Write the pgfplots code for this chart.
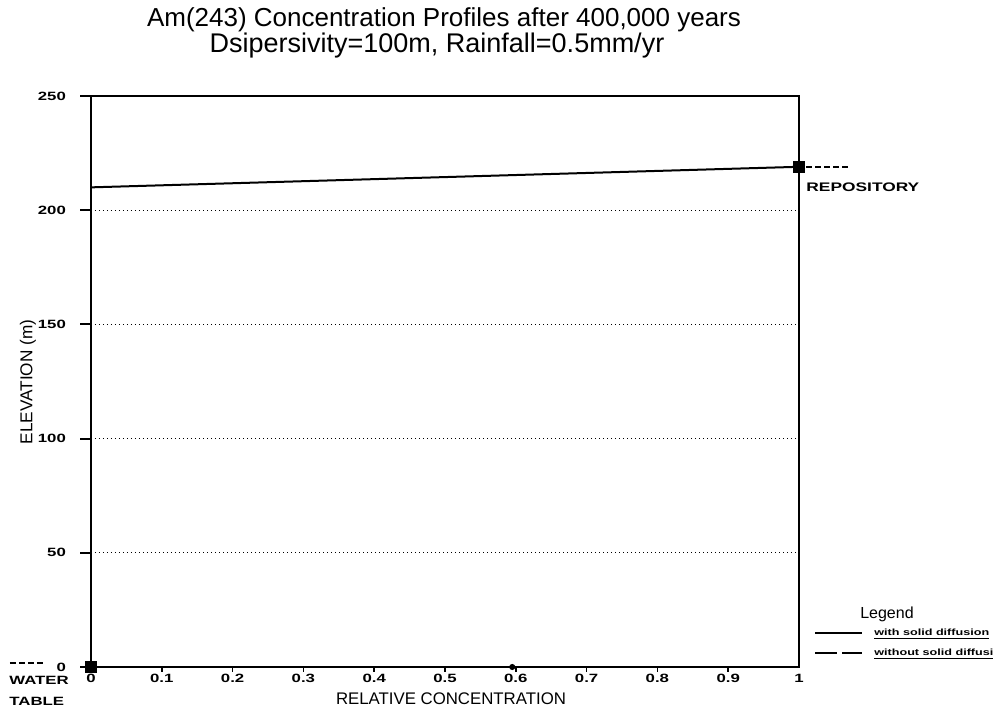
\documentclass[border=0pt]{standalone}
\usepackage{fontspec}
\setmainfont{Liberation Sans}
\newfontfamily\lbl[FakeStretch=1.4]{Liberation Sans}
\usepackage{pgfplots}
\pgfplotsset{compat=1.18}
\begin{document}
\begin{tikzpicture}
\begin{axis}[
    at={(0,0)}, anchor=south west,
    scale only axis,
    width=354pt, height=285.5pt,
    xmin=0, xmax=1, ymin=0, ymax=250,
    xtick={0,0.1,0.2,0.3,0.4,0.5,0.6,0.7,0.8,0.9,1},
    xticklabels={0,0.1,0.2,0.3,0.4,0.5,0.6,0.7,0.8,0.9,1},
    ytick={0,50,100,150,200,250},
    xtick pos=bottom, ytick pos=left,
    tick align=outside,
    major tick length=5.5pt,
    xtick style={draw=none},
    ytick style={line width=1pt, black},
    xticklabel style={yshift=5.5pt},
    yticklabel style={xshift=-3.5pt},
    ymajorgrids,
    grid style={black, line width=0.6pt, dash pattern=on 0.5pt off 1.5pt},
    axis line style={line width=1.1pt},
    ticklabel style={font=\lbl\bfseries\fontsize{6}{7}\selectfont},
    /pgf/number format/assume math mode=true,
    clip=false,
]
% short x ticks
\foreach \t in {0.1,0.2,0.3,0.4,0.5,0.6,0.7,0.8,0.9}{
  \edef\tmp{\noexpand\draw[line width=0.8pt] (axis cs:\t,0) -- ++(0,-2.5pt);}\tmp
}
% profile with solid diffusion
\addplot[black, line width=1pt] coordinates {(0,210) (1,219)};
% repository and water table markers
\addplot[only marks, mark=square*, mark size=2.6pt, black] coordinates {(1,219) (0,0)};
\addplot[only marks, mark=*, mark size=1.3pt, black] coordinates {(0.595,0)};
\end{axis}
% annotations in pixel units of the reference
\begin{scope}[x=0.5pt, y=-0.5pt, shift={(-45.5pt,333.5pt)}]
\node[font=\fontsize{13}{15}\selectfont] at (444,20) {Am(243) Concentration Profiles after 400,000 years};
\node[font=\fontsize{13.5}{15}\selectfont] at (437,46) {Dsipersivity=100m, Rainfall=0.5mm/yr};
\node[font=\fontsize{8.4}{10}\selectfont] at (451,699) {RELATIVE CONCENTRATION};
\node[font=\fontsize{8.6}{10}\selectfont, rotate=90] at (28,382) {ELEVATION (m)};
\node[font=\lbl\bfseries\fontsize{6}{7}\selectfont, anchor=west, inner sep=0pt] at (9,680) {WATER};
\node[font=\lbl\bfseries\fontsize{6}{7}\selectfont, anchor=west, inner sep=0pt] at (9,701) {TABLE};
\node[font=\lbl\bfseries\fontsize{6.2}{7}\selectfont, anchor=west, inner sep=0pt] at (806,187) {REPOSITORY};
\draw[line width=1.2pt, dash pattern=on 3pt off 1.5pt] (10,663) -- (46,663);
\draw[line width=1.2pt, dash pattern=on 3pt off 1.5pt] (806,167) -- (851,167);
% legend
\node[font=\fontsize{8}{9}\selectfont] at (887,614) {Legend};
\draw[line width=1pt] (815,633) -- (862,633);
\draw[line width=1pt, dash pattern=on 11pt off 2.5pt] (815,653) -- (862,653);
\node[font=\lbl\bfseries\fontsize{4.5}{5}\selectfont, anchor=west, inner sep=0pt] at (874,634) {\underline{with solid diffusion}};
\node[font=\lbl\bfseries\fontsize{4.5}{5}\selectfont, anchor=west, inner sep=0pt] at (874,654) {\underline{without solid diffusi}};
\end{scope}
\pgfresetboundingbox
\path[use as bounding box] (-45.5pt,-26pt) rectangle (453.5pt,333.5pt);
\end{tikzpicture}
\end{document}
